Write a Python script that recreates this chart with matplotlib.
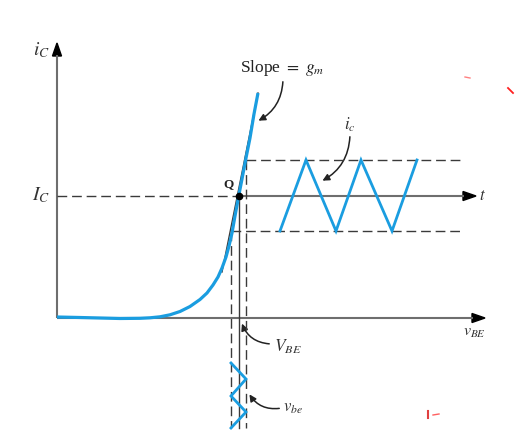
import matplotlib
matplotlib.use("Agg")
import matplotlib.pyplot as plt
from matplotlib.patches import FancyArrowPatch, Polygon

plt.rcParams['mathtext.fontset'] = 'stix'
plt.rcParams['font.family'] = ['Liberation Serif', 'DejaVu Serif']

# ---- diagram values (in picture units: x to the right, y downward) ----
origin = (57, 318)
y_axis_top = 43
x_axis_end = 485
Q = (238.7, 196)
ic_high, ic_low = 160, 231
t_axis_end = 476
v_left, v_bias, v_right = 231, 239, 246
bottom = 428

curve_x = [57, 80, 100, 120, 140, 150, 160, 170, 180, 190, 200, 207, 213, 218, 222, 226,
           229, 232, 235, 238.7, 242, 246, 250, 254, 258]
curve_y = [317, 317.5, 318, 318.5, 318.3, 317.8, 316.8, 314.8, 311.5, 306.5, 299.5, 293, 285, 277, 268, 257,
           246, 233, 216, 196, 179, 158, 138, 114, 93]

tangent_x = [222, 258]
tangent_y = [272, 93]

ic_wave_x = [280, 306, 336, 361, 392, 417]
ic_wave_y = [231, 160, 231, 160, 231, 160]

vbe_wave_x = [231, 246, 231, 246, 231]
vbe_wave_y = [363, 379, 396, 412, 428]

BLUE = '#1a9de0'
AX = '#6e6e6e'
DK = '#3a3a3a'

fig = plt.figure(figsize=(5.26, 4.34), dpi=100)
ax = fig.add_axes([0, 0, 1, 1])
ax.set_xlim(0, 526)
ax.set_ylim(434, 0)
ax.axis('off')

# axes
ax.plot([origin[0], origin[0]], [origin[1], y_axis_top + 12], color=AX, lw=1.5, solid_capstyle='butt')
ax.add_patch(Polygon([[origin[0], y_axis_top], [origin[0] - 4.5, y_axis_top + 13], [origin[0] + 4.5, y_axis_top + 13]],
                     closed=True, color='black'))
ax.plot([origin[0], x_axis_end - 12], [origin[1], origin[1]], color=AX, lw=1.5, solid_capstyle='butt')
ax.add_patch(Polygon([[x_axis_end, origin[1]], [x_axis_end - 13, origin[1] - 4.5], [x_axis_end - 13, origin[1] + 4.5]],
                     closed=True, color='black'))

# I_C dashed and t axis
dash = (0, (7, 3.5))
ax.plot([origin[0], Q[0]], [Q[1], Q[1]], color=DK, lw=1.0, linestyle=dash)
ax.plot([Q[0], t_axis_end - 12], [Q[1], Q[1]], color=AX, lw=1.5, solid_capstyle='butt')
ax.add_patch(Polygon([[t_axis_end, Q[1]], [t_axis_end - 13, Q[1] - 4.5], [t_axis_end - 13, Q[1] + 4.5]],
                     closed=True, color='black'))

# ic limits
ax.plot([v_right, 463], [ic_high, ic_high], color=DK, lw=1.0, linestyle=dash)
ax.plot([v_left, 463], [ic_low, ic_low], color=DK, lw=1.0, linestyle=dash)

# verticals
ax.plot([v_left, v_left], [ic_low, bottom], color=DK, lw=1.0, linestyle=dash)
ax.plot([v_right, v_right], [ic_high, bottom], color=DK, lw=1.0, linestyle=dash)
ax.plot([v_bias, v_bias], [Q[1], bottom], color=DK, lw=1.0)

# tangent and curve
ax.plot(tangent_x, tangent_y, color=DK, lw=1.0)
ax.plot(curve_x, curve_y, color=BLUE, lw=2.3, solid_capstyle='butt', solid_joinstyle='round')

# waves
ax.plot(ic_wave_x, ic_wave_y, color=BLUE, lw=2.0, solid_joinstyle='miter')
ax.plot(vbe_wave_x, vbe_wave_y, color=BLUE, lw=2.0, solid_joinstyle='miter')

# Q point
ax.plot([Q[0]], [Q[1]], 'o', color='black', ms=4.5)

# labels
ax.text(41, 50, r'$i_C$', fontsize=14, ha='center', va='center', color='#333333')
ax.text(41, 195, r'$I_C$', fontsize=14, ha='center', va='center', color='#333333')
ax.text(228, 184, 'Q', fontsize=9.5, ha='center', va='center', fontweight='bold', color='#222222')
ax.text(482, 196, r'$t$', fontsize=12, ha='center', va='center', color='#333333')
ax.text(474, 332, r'$v_{BE}$', fontsize=11.5, ha='center', va='center', color='#333333')
ax.text(240, 68, r'Slope $=$ $g_m$', fontsize=12.5, ha='left', va='center', color='#222222')
ax.text(350, 125, r'$i_c$', fontsize=12, ha='center', va='center', color='#333333')
ax.text(288, 347, r'$V_{BE}$', fontsize=12.5, ha='center', va='center', color='#333333')
ax.text(293, 408, r'$v_{be}$', fontsize=12, ha='center', va='center', color='#333333')

def arrow(p0, p1, rad):
    a = FancyArrowPatch(p0, p1, connectionstyle=f'arc3,rad={rad}', arrowstyle='-|>',
                        mutation_scale=10, color='#222222', lw=1.1)
    ax.add_patch(a)

arrow((283, 79), (256, 122), -0.3)
arrow((350, 134), (320, 182), -0.3)
arrow((272, 344), (241, 321), -0.35)
arrow((282, 408), (248, 392), -0.35)

# small red marks
ax.plot([465, 470], [77, 78], color='#ff8080', lw=1)
ax.plot([508, 513], [88, 93], color='#ff2020', lw=1.3)
ax.plot([428, 428], [411, 418], color='#e04040', lw=1.5)
ax.plot([433, 439], [415, 414], color='#ff6060', lw=1)

fig.savefig('out.png', dpi=100)
